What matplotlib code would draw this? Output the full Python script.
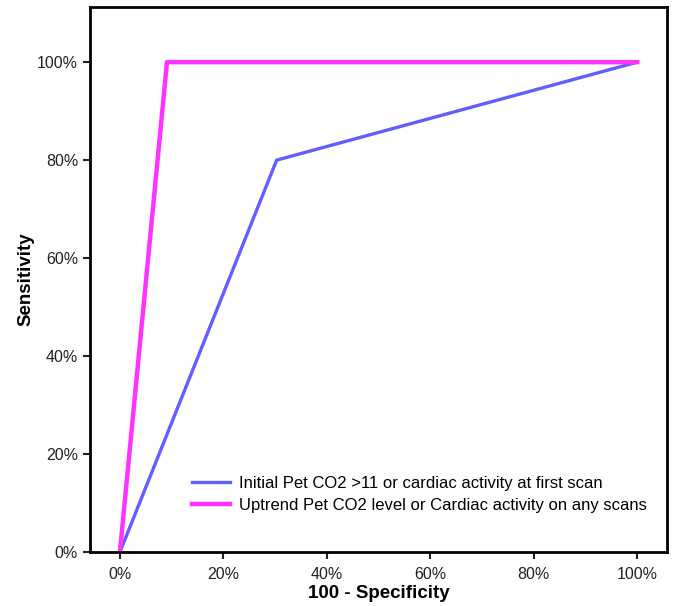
import matplotlib
matplotlib.use('Agg')
import matplotlib.pyplot as plt
from matplotlib.ticker import PercentFormatter

plt.rcParams['font.family'] = ['Liberation Sans', 'DejaVu Sans']

# ROC curve points (100 - specificity, sensitivity), in percent
initial_x = [0, 30.3, 100]
initial_y = [0, 80, 100]
uptrend_x = [0, 9.1, 100]
uptrend_y = [0, 100, 100]
labels = ['Initial Pet CO2 >11 or cardiac activity at first scan',
          'Uptrend Pet CO2 level or Cardiac activity on any scans']

fig = plt.figure(figsize=(6.76, 6.06), dpi=100)
ax = fig.add_axes([0.133, 0.089, 0.854, 0.899])

ax.plot(initial_x, initial_y, color='#5f5fff', lw=2.4, label=labels[0])
ax.plot(uptrend_x, uptrend_y, color='#ff33ff', lw=3.2, label=labels[1])

ax.set_xlim(-5.8, 105.8)
ax.set_ylim(0, 111.2)
ax.set_xticks([0, 20, 40, 60, 80, 100])
ax.set_yticks([0, 20, 40, 60, 80, 100])
ax.xaxis.set_major_formatter(PercentFormatter(decimals=0))
ax.yaxis.set_major_formatter(PercentFormatter(decimals=0))
ax.tick_params(direction='out', length=5, width=1.5, labelsize=11.5, colors='#222222')
ax.tick_params(axis='x', pad=6)
for s in ax.spines.values():
    s.set_linewidth(2)

ax.set_xlabel('100 - Specificity', fontsize=13.5, fontweight='bold', labelpad=2)
ax.set_ylabel('Sensitivity', fontsize=13.5, fontweight='bold', labelpad=2)

ax.legend(loc='lower right', bbox_to_anchor=(0.99, 0.045), frameon=False,
          fontsize=12, handlelength=2.3, handletextpad=0.5, labelspacing=0.4)

fig.savefig('out.png', dpi=100)
